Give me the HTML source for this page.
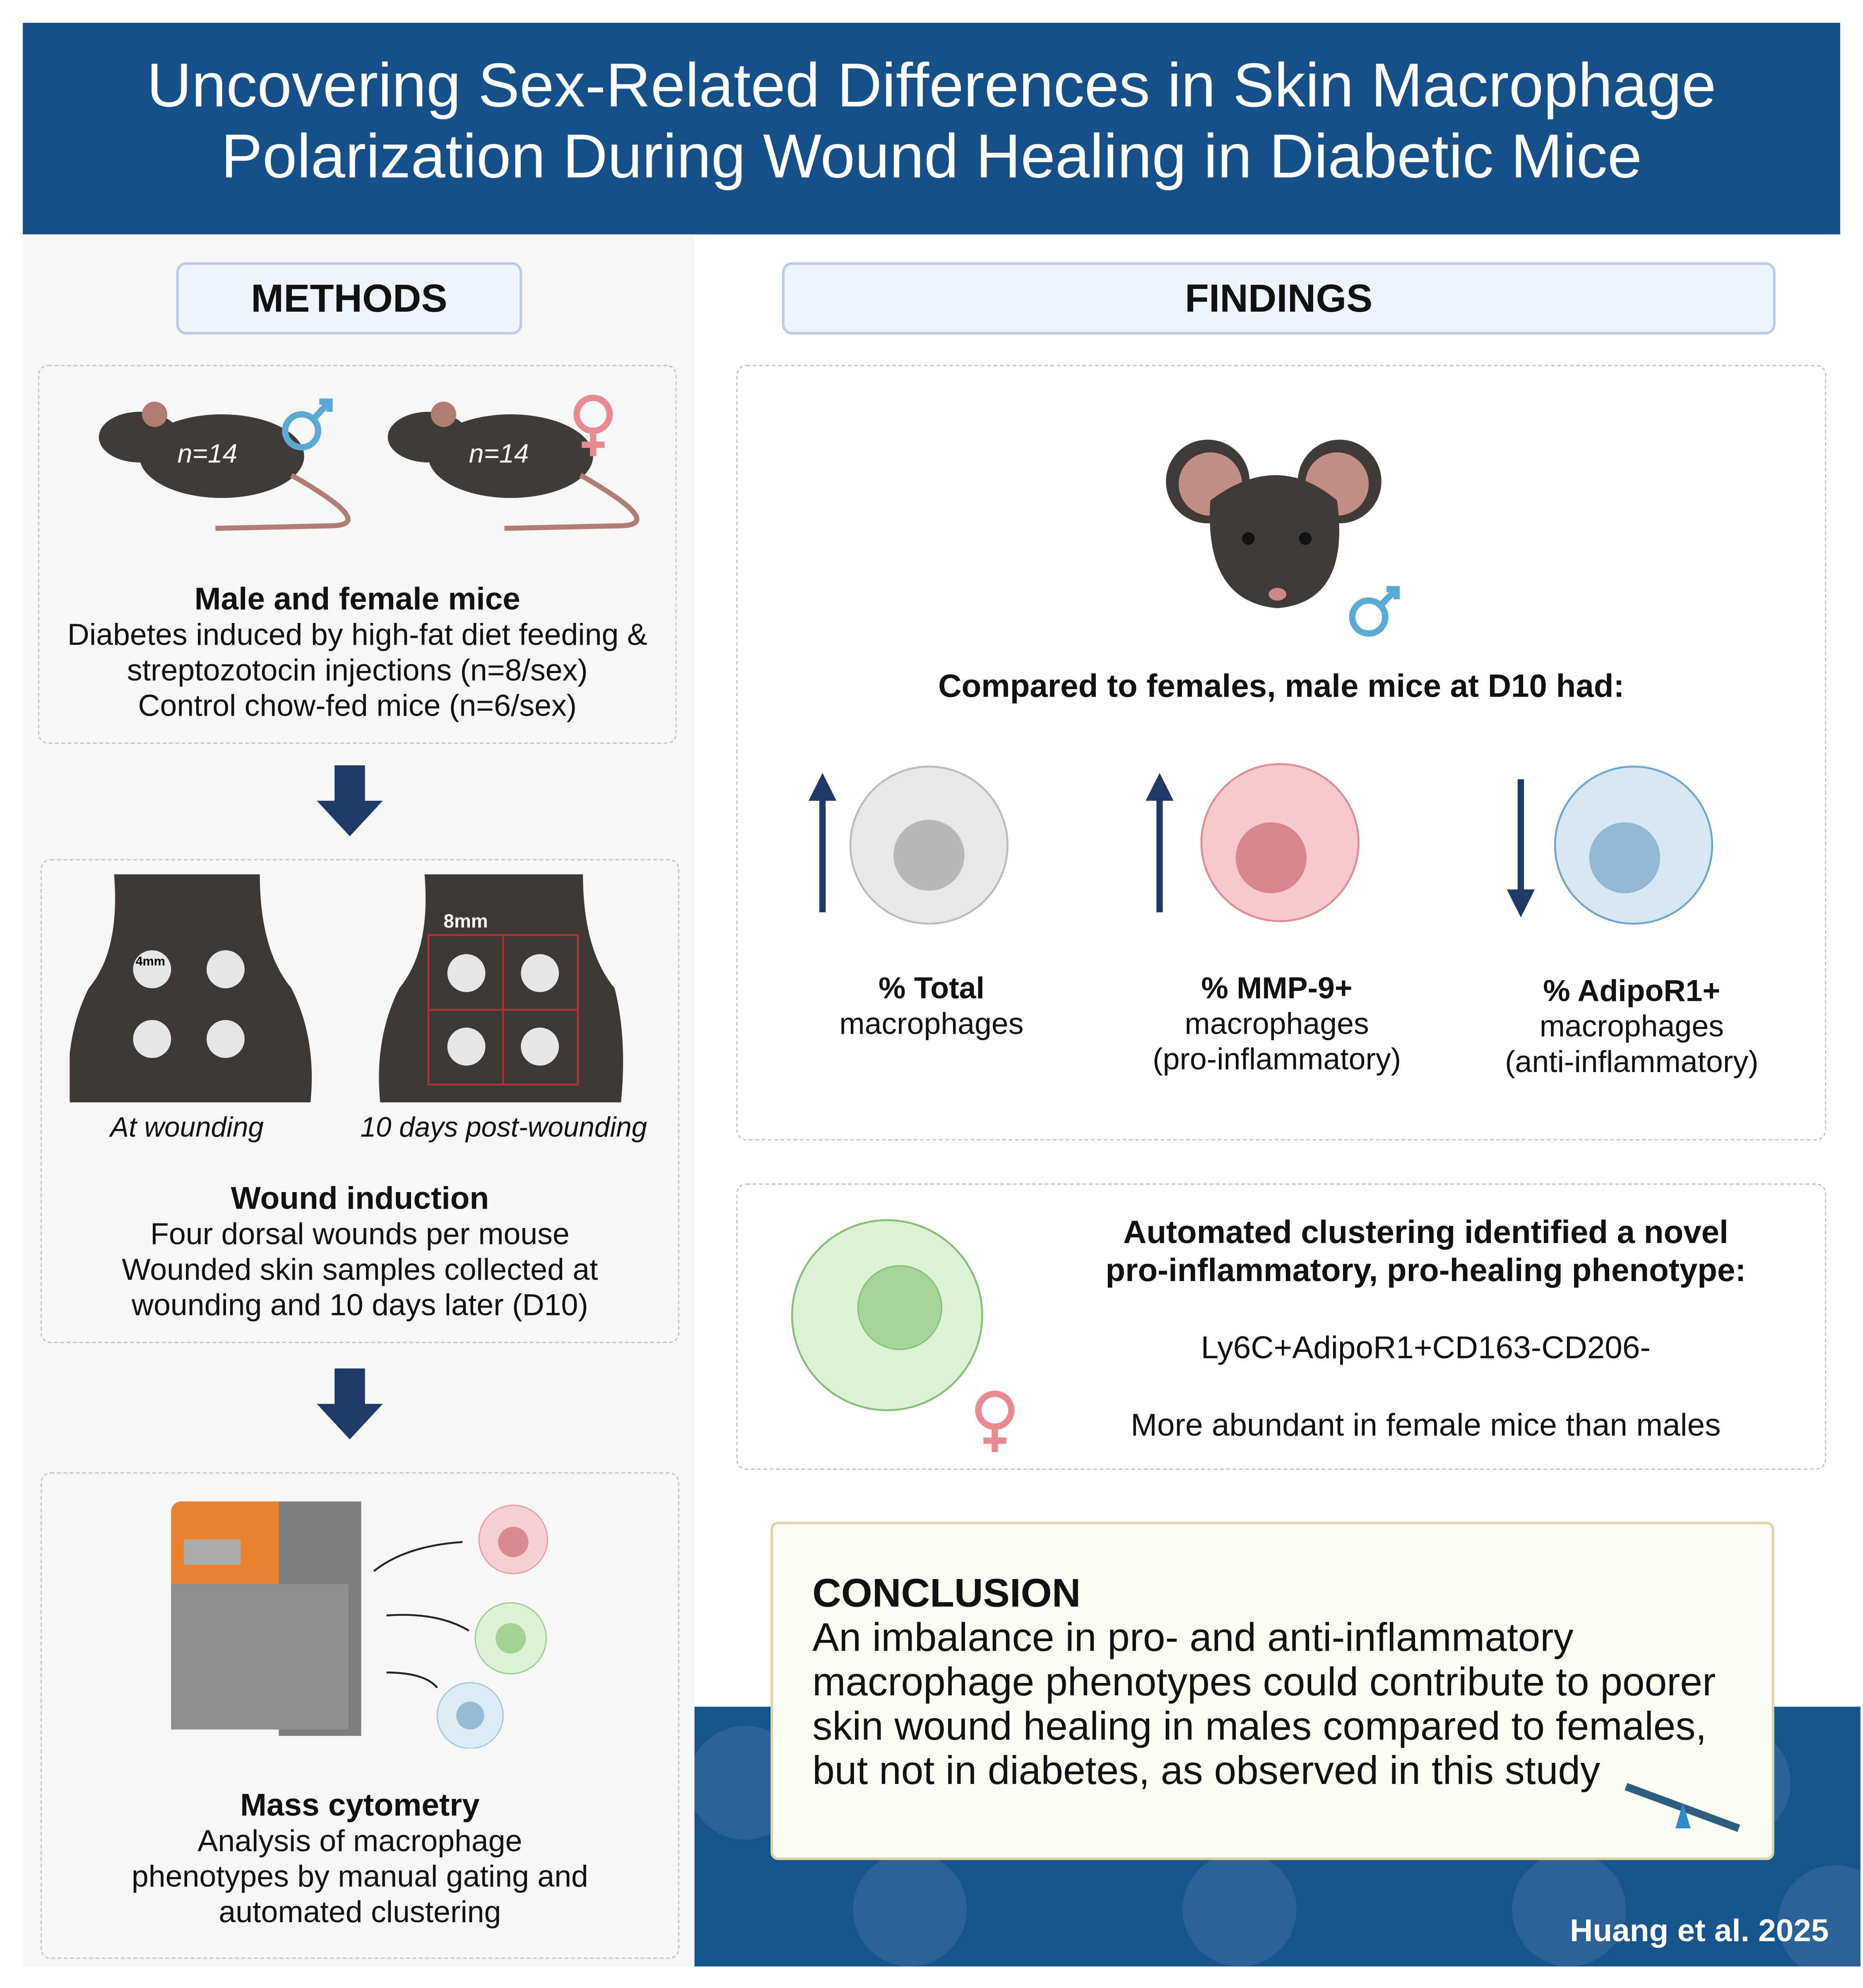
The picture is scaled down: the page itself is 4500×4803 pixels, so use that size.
<!DOCTYPE html>
<html><head><meta charset="utf-8"><style>
*{margin:0;padding:0;box-sizing:border-box}
body{width:4500px;height:4803px;overflow:hidden;background:#fff;font-family:"Liberation Sans","DejaVu Sans",sans-serif}
#w{width:1470px;height:1569px;position:relative;transform:scale(3.0612);transform-origin:0 0}
.a{position:absolute}
.t{position:absolute;text-align:center;color:#111;font-size:23px;line-height:28px}
.l{font-size:24px}
.b{font-weight:bold}
.dash{position:absolute;border:1.5px dashed #c4c4c4;border-radius:8px}
.hdr{position:absolute;background:#eef4fb;border:2px solid #bccbe3;border-radius:8px;font-weight:bold;font-size:31px;text-align:center;line-height:54px;color:#111}
</style></head><body><div id="w">
<div class="a" style="left:18px;top:18px;width:1434px;height:167px;background:#16508a"></div>
<div class="t" style="left:18px;top:40px;width:1434px;color:#fff;font-size:49px;line-height:56px">Uncovering Sex-Related Differences in Skin Macrophage<br>Polarization During Wound Healing in Diabetic Mice</div>
<div class="a" style="left:18px;top:185px;width:530px;height:1367px;background:#f6f6f6"></div>
<div class="a" style="left:548px;top:1347px;width:920px;height:205px;background:#17548c;overflow:hidden">
<svg width="920" height="205"><g fill="#2f6599" opacity=".8">
<circle cx="40" cy="60" r="45"/><circle cx="170" cy="160" r="45"/><circle cx="300" cy="60" r="45"/><circle cx="430" cy="160" r="45"/><circle cx="560" cy="60" r="45"/><circle cx="690" cy="160" r="45"/><circle cx="820" cy="60" r="45"/><circle cx="900" cy="170" r="45"/></g></svg></div>
<div class="hdr" style="left:139px;top:207px;width:273px;height:57px">METHODS</div>
<div class="hdr" style="left:617px;top:207px;width:784px;height:57px">FINDINGS</div>

<div class="dash" style="left:30px;top:288px;width:504px;height:299px"></div>
<svg class="a" style="left:60px;top:305px" width="450" height="130">
<g><ellipse cx="115" cy="55" rx="65" ry="33" fill="#3f3b37"/><ellipse cx="50" cy="40" rx="32" ry="20" fill="#3f3b37"/><circle cx="62" cy="22" r="10" fill="#b07c74"/><path d="M170 70 Q240 110 200 110 L110 112" stroke="#b07c74" stroke-width="4" fill="none"/>
<circle cx="178" cy="35" r="13" fill="none" stroke="#5aaad6" stroke-width="5"/><path d="M188 25 L200 12 M192 12 H200 V20" stroke="#5aaad6" stroke-width="5" fill="none"/></g>
<g transform="translate(228,0)"><ellipse cx="115" cy="55" rx="65" ry="33" fill="#3f3b37"/><ellipse cx="50" cy="40" rx="32" ry="20" fill="#3f3b37"/><circle cx="62" cy="22" r="10" fill="#b07c74"/><path d="M170 70 Q240 110 200 110 L110 112" stroke="#b07c74" stroke-width="4" fill="none"/>
<circle cx="180" cy="22" r="13" fill="none" stroke="#e98a92" stroke-width="5"/><path d="M180 35 V55 M171 46 H189" stroke="#e98a92" stroke-width="5"/></g>
<text x="80" y="60" fill="#fff" font-size="21" font-style="italic" font-family="Liberation Sans">n=14</text>
<text x="310" y="60" fill="#fff" font-size="21" font-style="italic" font-family="Liberation Sans">n=14</text></svg>
<div class="t l" style="left:30px;top:459px;width:504px"><span class="b" style="font-size:25px">Male and female mice</span><br>Diabetes induced by high-fat diet feeding &amp;<br>streptozotocin injections (n=8/sex)<br>Control chow-fed mice (n=6/sex)</div>

<svg class="a" style="left:250px;top:604px" width="52" height="58"><path d="M14 0H38V28H52L26 56L0 28H14Z" fill="#1f3a68"/></svg>
<svg class="a" style="left:250px;top:1080px" width="52" height="58"><path d="M14 0H38V28H52L26 56L0 28H14Z" fill="#1f3a68"/></svg>

<div class="dash" style="left:32px;top:678px;width:504px;height:382px"></div>
<svg class="a" style="left:55px;top:690px" width="460" height="185">
<path d="M35 0H150Q150 60 175 90Q195 130 190 180H0Q-5 130 15 90Q40 60 35 0Z" fill="#3d3833"/>
<circle cx="65" cy="75" r="15" fill="#e6e6e6"/><circle cx="123" cy="75" r="15" fill="#e6e6e6"/><circle cx="65" cy="130" r="15" fill="#e6e6e6"/><circle cx="123" cy="130" r="15" fill="#e6e6e6"/>
<text x="52" y="72" font-size="10" font-family="Liberation Sans" font-weight="bold">4mm</text>
<g transform="translate(245,0)"><path d="M35 0H160Q160 60 185 90Q195 130 190 180H0Q-5 130 15 90Q40 60 35 0Z" fill="#3d3833"/>
<rect x="38" y="48" width="118" height="118" fill="none" stroke="#b0303a" stroke-width="1.5"/><path d="M97 48V166M38 107H156" stroke="#b0303a" stroke-width="1.5"/>
<circle cx="68" cy="78" r="15" fill="#e6e6e6"/><circle cx="126" cy="78" r="15" fill="#e6e6e6"/><circle cx="68" cy="136" r="15" fill="#e6e6e6"/><circle cx="126" cy="136" r="15" fill="#e6e6e6"/>
<text x="50" y="42" font-size="15" fill="#fff" font-family="Liberation Sans" font-weight="bold">8mm</text></g></svg>
<div class="t" style="left:55px;top:876px;width:185px;font-style:italic;font-size:22px">At wounding</div>
<div class="t" style="left:265px;top:876px;width:265px;font-style:italic;font-size:22px">10 days post-wounding</div>
<div class="t l" style="left:32px;top:932px;width:504px"><span class="b" style="font-size:25px">Wound induction</span><br>Four dorsal wounds per mouse<br>Wounded skin samples collected at<br>wounding and 10 days later (D10)</div>

<div class="dash" style="left:32px;top:1162px;width:504px;height:384px"></div>
<svg class="a" style="left:130px;top:1180px" width="320" height="200">
<rect x="5" y="5" width="150" height="180" rx="8" fill="#e8822e"/><rect x="90" y="5" width="65" height="185" fill="#7d7d7d"/><rect x="5" y="70" width="140" height="115" fill="#8e8e8e"/><rect x="15" y="35" width="45" height="20" fill="#aaa"/>
<path d="M165 60Q190 40 235 37" stroke="#222" fill="none" stroke-width="1.5"/><path d="M175 95Q215 92 240 107" stroke="#222" fill="none" stroke-width="1.5"/><path d="M175 140Q205 140 215 152" stroke="#222" fill="none" stroke-width="1.5"/>
<circle cx="275" cy="35" r="27" fill="#f7d0d3" stroke="#e8a0a6"/><circle cx="275" cy="37" r="12" fill="#d98a92"/>
<circle cx="273" cy="113" r="28" fill="#ddf2d5" stroke="#9bd08e"/><circle cx="273" cy="113" r="12" fill="#a2d395"/>
<circle cx="241" cy="174" r="26" fill="#dcebf4" stroke="#a5c8df"/><circle cx="241" cy="174" r="11" fill="#98bbd4"/></svg>
<div class="t l" style="left:32px;top:1411px;width:504px"><span class="b" style="font-size:25px">Mass cytometry</span><br>Analysis of macrophage<br>phenotypes by manual gating and<br>automated clustering</div>

<div class="dash" style="left:581px;top:288px;width:860px;height:612px"></div>
<svg class="a" style="left:920px;top:335px" width="190" height="170">
<circle cx="33" cy="45" r="33" fill="#3f3a36"/><circle cx="137" cy="45" r="33" fill="#3f3a36"/><circle cx="35" cy="47" r="25" fill="#c18e86"/><circle cx="135" cy="47" r="25" fill="#c18e86"/>
<path d="M35 60Q30 140 88 145Q146 140 135 60Q88 20 35 60Z" fill="#3f3a36"/><circle cx="65" cy="90" r="5" fill="#111"/><circle cx="110" cy="90" r="5" fill="#111"/><ellipse cx="88" cy="134" rx="7" ry="5" fill="#c88"/>
<circle cx="160" cy="152" r="13" fill="none" stroke="#5aaad6" stroke-width="5"/><path d="M170 142L182 130M174 130H182V138" stroke="#5aaad6" stroke-width="5" fill="none"/></svg>
<div class="t b" style="left:581px;top:528px;width:860px;font-size:25.5px">Compared to females, male mice at D10 had:</div>
<svg class="a" style="left:625px;top:600px" width="800" height="140">
<path d="M24 120V25" stroke="#1f3a68" stroke-width="5"/><path d="M13 32L24 10L35 32Z" fill="#1f3a68"/>
<circle cx="108" cy="67" r="62" fill="#e8e8e8" stroke="#bbb" stroke-width="1.5"/><circle cx="108" cy="75" r="28" fill="#b8b8b8"/>
<path d="M290 120V25" stroke="#1f3a68" stroke-width="5"/><path d="M279 32L290 10L301 32Z" fill="#1f3a68"/>
<circle cx="385" cy="65" r="62" fill="#f6c9cc" stroke="#e08c94" stroke-width="1.5"/><circle cx="378" cy="77" r="28" fill="#d9868c"/>
<path d="M575 15V110" stroke="#1f3a68" stroke-width="5"/><path d="M564 102L575 124L586 102Z" fill="#1f3a68"/>
<circle cx="664" cy="67" r="62" fill="#d6e8f4" stroke="#6ea7cc" stroke-width="1.5"/><circle cx="657" cy="77" r="28" fill="#93b8d4"/></svg>
<div class="t l" style="left:635px;top:767px;width:200px"><b>% Total</b><br>macrophages</div>
<div class="t l" style="left:880px;top:767px;width:255px"><b>% MMP-9+</b><br>macrophages<br>(pro-inflammatory)</div>
<div class="t l" style="left:1160px;top:769px;width:255px"><b>% AdipoR1+</b><br>macrophages<br>(anti-inflammatory)</div>

<div class="dash" style="left:581px;top:934px;width:860px;height:226px"></div>
<svg class="a" style="left:615px;top:960px" width="200" height="190">
<circle cx="85" cy="78" r="75" fill="#ddf2d5" stroke="#84c078" stroke-width="1.5"/><circle cx="95" cy="72" r="33" fill="#a4d597" stroke="#84c078"/>
<circle cx="170" cy="153" r="13" fill="none" stroke="#e98a92" stroke-width="5"/><path d="M170 166V186M161 177H179" stroke="#e98a92" stroke-width="5"/></svg>
<div class="t b" style="left:840px;top:958px;width:570px;font-size:25.5px;line-height:30px">Automated clustering identified a novel<br>pro-inflammatory, pro-healing phenotype:</div>
<div class="t" style="left:840px;top:1050px;width:570px;font-size:25px">Ly6C+AdipoR1+CD163-CD206-</div>
<div class="t" style="left:840px;top:1111px;width:570px;font-size:25px">More abundant in female mice than males</div>

<div class="a" style="left:608px;top:1201px;width:792px;height:267px;background:#fdfcf2;border:2px solid #ddd5a8;border-radius:6px"></div>
<div class="a" style="left:641px;top:1240px;font-size:31.5px;line-height:35px;color:#111"><b>CONCLUSION</b><br>An imbalance in pro- and anti-inflammatory<br>macrophage phenotypes could contribute to poorer<br>skin wound healing in males compared to females,<br>but not in diabetes, as observed in this study</div>
<svg class="a" style="left:1280px;top:1405px" width="100" height="45"><path d="M3 5L92 38" stroke="#2e5d80" stroke-width="6"/><path d="M42 38L48 18L54 38Z" fill="#2e8ccc"/></svg>
<div class="a b" style="left:1200px;top:1510px;width:243px;text-align:right;color:#fff;font-size:25px">Huang et al. 2025</div>
</div></body></html>
